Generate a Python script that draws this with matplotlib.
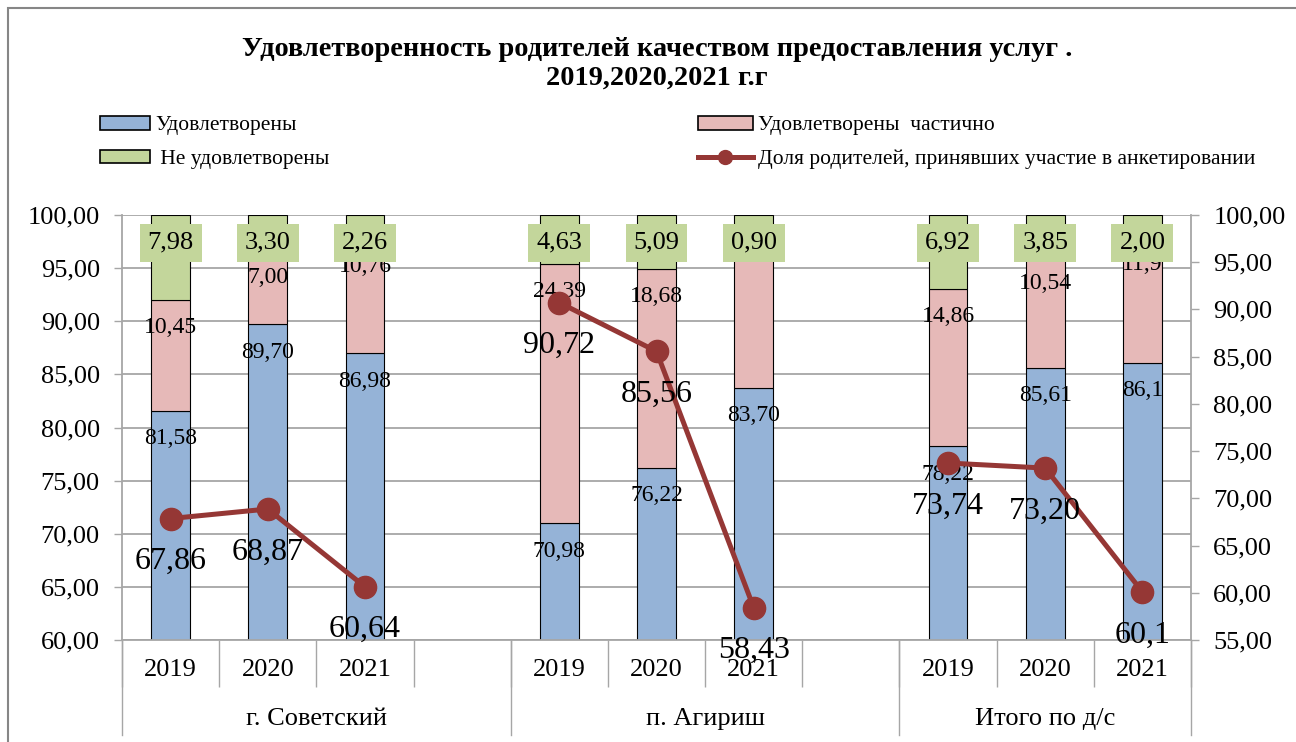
import matplotlib
matplotlib.use("Agg")
import matplotlib.pyplot as plt
import numpy as np
from matplotlib.lines import Line2D
from matplotlib.patches import Patch, Rectangle
from matplotlib.ticker import FuncFormatter, MultipleLocator
from matplotlib.transforms import blended_transform_factory

TITLE = "Удовлетворенность родителей качеством предоставления услуг .\n2019,2020,2021 г.г"

GROUPS = ["г. Советский", "п. Агириш", "Итого по д/с"]
YEARS = ["2019", "2020", "2021"]

# values as printed on the chart (comma decimals)
SATISFIED = ["81,58", "89,70", "86,98", "70,98", "76,22", "83,70", "78,22", "85,61", "86,1"]
PARTIAL = ["10,45", "7,00", "10,76", "24,39", "18,68", "15,40", "14,86", "10,54", "11,9"]
NOT_SATISFIED = ["7,98", "3,30", "2,26", "4,63", "5,09", "0,90", "6,92", "3,85", "2,00"]
SHARE = ["67,86", "68,87", "60,64", "90,72", "85,56", "58,43", "73,74", "73,20", "60,1"]

SERIES_NAMES = ["Удовлетворены", "Удовлетворены  частично", " Не удовлетворены",
                "Доля родителей, принявших участие в анкетировании"]

BLUE = "#95B3D7"
PINK = "#E6B9B8"
GREEN = "#C3D69B"
LINE = "#953735"
GRID = "#A6A6A6"


def num(s):
    return float(s.replace(",", "."))


def comma(v, pos=None):
    return f"{v:.2f}".replace(".", ",")


plt.rcParams["font.family"] = ["Liberation Serif", "DejaVu Serif"]

fig = plt.figure(figsize=(12.96, 7.42), dpi=100)
ax = fig.add_axes([122 / 1296, 1 - 640 / 742, (1191 - 122) / 1296, 425 / 742])

# one slot per year, an empty slot between places
x = []
for g in range(len(GROUPS)):
    for i in range(len(YEARS)):
        x.append(g * 4 + i)
x = np.array(x)
n_slots = x.max() + 1

sat = np.array([num(s) for s in SATISFIED])
part = np.array([num(s) for s in PARTIAL])
nots = np.array([num(s) for s in NOT_SATISFIED])
share = np.array([num(s) for s in SHARE])

w = 0.4
ax.bar(x, sat, w, color=BLUE, edgecolor="black", linewidth=0.8, zorder=2)
ax.bar(x, part, w, bottom=sat, color=PINK, edgecolor="black", linewidth=0.8, zorder=2)
ax.bar(x, nots, w, bottom=sat + part, color=GREEN, edgecolor="black", linewidth=0.8, zorder=2)

ax.set_ylim(60, 100)
ax.set_xlim(-0.5, n_slots - 0.5)
ax.yaxis.set_major_locator(MultipleLocator(5))
ax.yaxis.set_major_formatter(FuncFormatter(comma))
ax.yaxis.grid(True, color=GRID, linewidth=1.3)
ax.set_axisbelow(True)
ax.tick_params(axis="y", labelsize=19, length=6, width=1, color=GRID, pad=10)

# bar labels, "inside end"
ymax = ax.get_ylim()[1]
for labels, tops, size, box in [(SATISFIED, sat, 17, False),
                                (PARTIAL, sat + part, 17, False),
                                (NOT_SATISFIED, sat + part + nots, 19, True)]:
    for xi, top, lab in zip(x, tops, labels):
        kw = {}
        if box:
            kw["bbox"] = dict(boxstyle="square,pad=0.3", facecolor=GREEN, edgecolor="none")
        ax.annotate(lab, (xi, min(top, ymax)), xytext=(0, -20), textcoords="offset points",
                    ha="center", va="center", fontsize=size, zorder=4 if box else 3, **kw)

# category axis
slot_labels = [YEARS[s % 4] if s % 4 < 3 else "" for s in range(n_slots)]
ax.set_xticks(range(n_slots))
ax.set_xticklabels(slot_labels, fontsize=19)
ax.tick_params(axis="x", length=0, pad=14)
ax.set_xticks(np.arange(-0.5, n_slots, 1), minor=True)
ax.tick_params(axis="x", which="minor", length=34, width=1, color=GRID)

trans = blended_transform_factory(ax.transData, ax.transAxes)
bounds = [-0.5, 3.5, 7.5, n_slots - 0.5]
for b in bounds:
    ax.plot([b, b], [0, -0.2235], transform=trans, color=GRID, linewidth=1, clip_on=False)
for g, name in enumerate(GROUPS):
    ax.text((bounds[g] + bounds[g + 1]) / 2, -0.187, name, transform=trans,
            ha="center", va="center", fontsize=19)

for side in ["top", "right"]:
    ax.spines[side].set_visible(False)
for side in ["left", "bottom"]:
    ax.spines[side].set_color(GRID)
    ax.spines[side].set_linewidth(1.3)

# share of parents, right axis
ax2 = ax.twinx()
line_y = np.full(n_slots, np.nan)
line_y[x] = share
ax2.plot(np.arange(n_slots), line_y, color=LINE, linewidth=3.6, marker="o", markersize=16)
ax2.set_ylim(55, 100)
ax2.yaxis.set_major_locator(MultipleLocator(5))
ax2.yaxis.set_major_formatter(FuncFormatter(comma))
ax2.tick_params(axis="y", labelsize=19, length=6, width=1, color=GRID, pad=10)
for side in ["top", "left", "bottom"]:
    ax2.spines[side].set_visible(False)
ax2.spines["right"].set_color(GRID)
ax2.spines["right"].set_linewidth(1.3)
for xi, v, lab in zip(x, share, SHARE):
    ax2.annotate(lab, (xi, v), xytext=(0, -31), textcoords="offset points",
                 ha="center", va="center", fontsize=23, annotation_clip=False)

fig.text(657 / 1296, 1 - 64 / 742, TITLE, ha="center", va="center",
         fontsize=20.4, fontweight="bold", linespacing=1.2)

# legend in two columns
h_blue = Patch(facecolor=BLUE, edgecolor="black", linewidth=1.2)
h_pink = Patch(facecolor=PINK, edgecolor="black", linewidth=1.2)
h_green = Patch(facecolor=GREEN, edgecolor="black", linewidth=1.2)
h_line = Line2D([], [], color=LINE, linewidth=3.6, marker="o", markersize=10)
leg_kw = dict(loc="upper left", frameon=False, fontsize=15.5, borderpad=0, borderaxespad=0,
              handleheight=0.6, handletextpad=0.25, labelspacing=0.66)
fig.legend([h_blue, h_green], [SERIES_NAMES[0], SERIES_NAMES[2]], handlelength=2.3,
           bbox_to_anchor=(100 / 1296, 1 - 116 / 742), **leg_kw)
fig.legend([h_pink, h_line], [SERIES_NAMES[1], SERIES_NAMES[3]], handlelength=2.55,
           bbox_to_anchor=(698 / 1296, 1 - 116 / 742), **leg_kw)

# chart frame
fig.patches.append(Rectangle((8 / 1296, -0.05), 1.1, 1.05 - 8 / 742, transform=fig.transFigure,
                             fill=False, edgecolor="#868686", linewidth=1.5))

fig.savefig("out.png", dpi=100)
